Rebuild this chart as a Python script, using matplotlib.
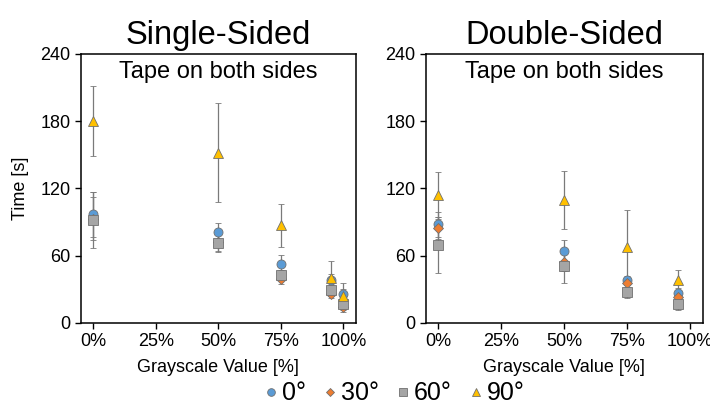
import matplotlib
matplotlib.use("Agg")
import matplotlib.pyplot as plt
from matplotlib.ticker import FuncFormatter
from matplotlib.lines import Line2D

plt.rcParams['font.family'] = ['Liberation Sans', 'DejaVu Sans']

angles = ["0°", "30°", "60°", "90°"]

# Single-Sided panel
x_single = [0, 50, 75, 95, 100]
single_mean = {
    "0°": [97, 81, 53, 38, 26],
    "30°": [93, 72, 39, 26, 14],
    "60°": [92, 71, 43, 29, 17],
    "90°": [180, 152, 87, 40, 24],
}
single_err = {
    "0°": [20, 8, 8, 6, 10],
    "30°": [19, 8, 4, 4, 4],
    "60°": [25, 8, 4, 5, 5],
    "90°": [31, 44, 19, 15, 6],
}

# Double-Sided panel
x_double = [0, 50, 75, 95]
double_mean = {
    "0°": [88, 64, 38, 27],
    "30°": [85, 54, 36, 23],
    "60°": [70, 51, 28, 17],
    "90°": [114, 110, 68, 38],
}
double_err = {
    "0°": [11, 10, 4, 4],
    "30°": [10, 8, 4, 3],
    "60°": [25, 15, 6, 5],
    "90°": [21, 26, 33, 9],
}

colors = {"0°": "#5B9BD5", "30°": "#ED7D31", "60°": "#A5A5A5", "90°": "#FFC000"}
markers = {"0°": "o", "30°": "D", "60°": "s", "90°": "^"}
msizes = {"0°": 6.5, "30°": 5.0, "60°": 6.5, "90°": 6.5}

fig = plt.figure(figsize=(7.1, 4.09), dpi=100)
ax1 = fig.add_axes([0.1137, 0.2103, 0.3877, 0.6577])
ax2 = fig.add_axes([0.5996, 0.2103, 0.3901, 0.6577])


def draw_panel(ax, xs, means, errs, title):
    for a in angles:
        ax.errorbar(xs, means[a], yerr=errs[a], fmt=markers[a], color=colors[a],
                    markersize=msizes[a], markeredgecolor="#707070", markeredgewidth=0.6,
                    ecolor="#7a7a7a", elinewidth=0.9, capsize=2.2, capthick=0.9)
    ax.set_xlim(-5, 105)
    ax.set_ylim(0, 240)
    ax.set_xticks([0, 25, 50, 75, 100])
    ax.xaxis.set_major_formatter(FuncFormatter(lambda v, p: "{:d}%".format(int(v))))
    ax.set_yticks([0, 60, 120, 180, 240])
    ax.tick_params(labelsize=13, length=4, width=1, direction="out")
    for s in ax.spines.values():
        s.set_linewidth(1.1)
    ax.set_title(title, fontsize=23.5, pad=7)
    ax.text(0.5, 0.975, "Tape on both sides", transform=ax.transAxes,
            ha="center", va="top", fontsize=17)
    ax.set_xlabel("Grayscale Value [%]", fontsize=13, labelpad=6)


draw_panel(ax1, x_single, single_mean, single_err, "Single-Sided")
draw_panel(ax2, x_double, double_mean, double_err, "Double-Sided")
ax1.set_ylabel("Time [s]", fontsize=13, labelpad=8)

handles = [Line2D([], [], marker=markers[a], linestyle="none", color=colors[a],
                  markersize=msizes[a] * 0.85, markeredgecolor="#707070",
                  markeredgewidth=0.6) for a in angles]
fig.legend(handles, angles, loc="center", bbox_to_anchor=(0.553, 0.038), ncol=4,
           frameon=False, fontsize=18, handletextpad=0.05, columnspacing=0.55,
           handlelength=0.8, borderpad=0.1)

fig.savefig("out.png", dpi=100, facecolor="white")
